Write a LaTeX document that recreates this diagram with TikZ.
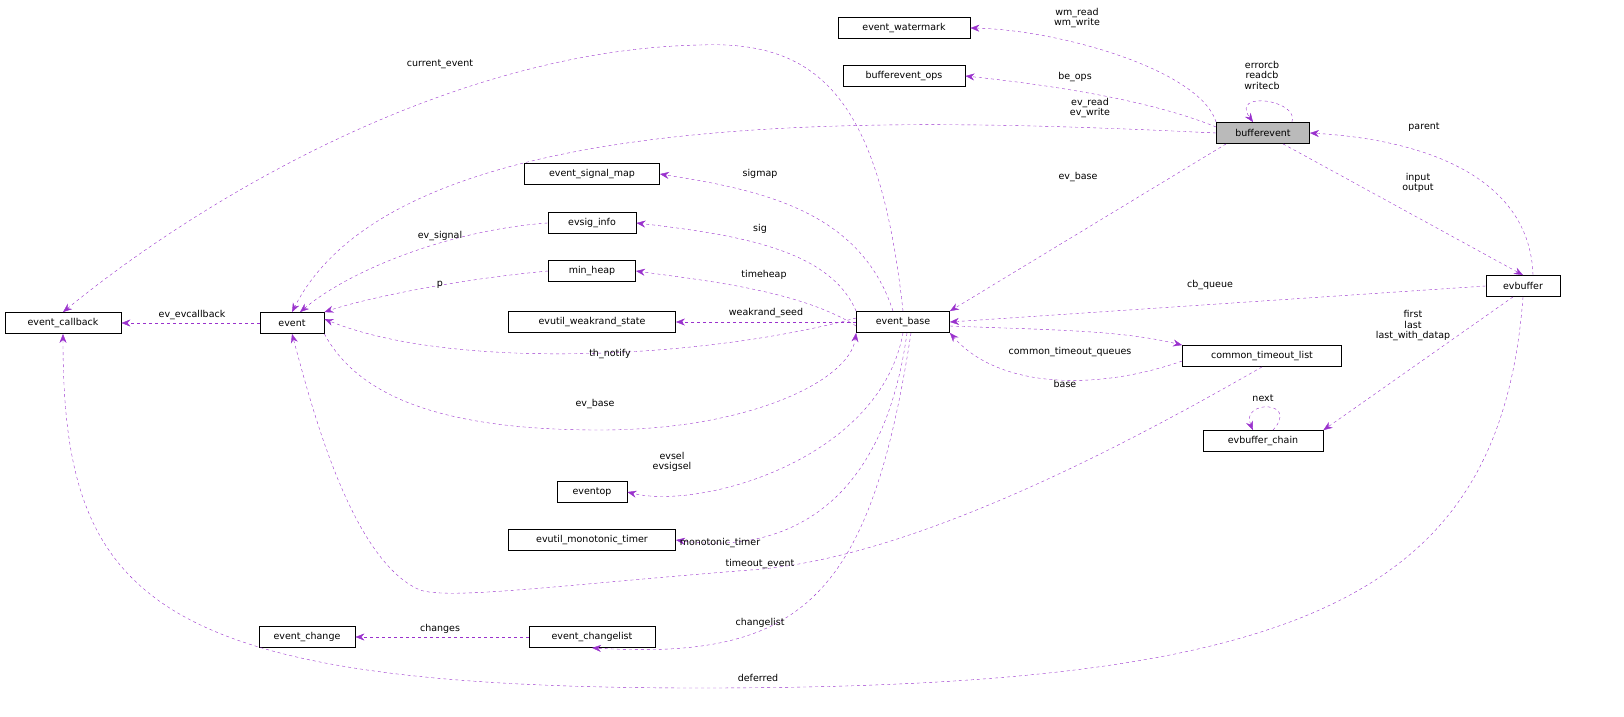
\documentclass[tikz,border=0pt]{standalone}
\usepackage{fontspec}
\setmainfont{DejaVu Sans}
\usetikzlibrary{arrows.meta}
\definecolor{ec}{HTML}{9A32CD}
\begin{document}
\begin{tikzpicture}[x=1pt,y=-1pt,
 box/.style={draw,thick,fill=white,font=\fontsize{9.5}{10}\selectfont,inner sep=3pt,minimum height=21pt},
 e/.style={ec,dashed,-{Stealth[length=9pt,width=7pt]}},
 lb/.style={font=\fontsize{9.5}{10.5}\selectfont,align=center,inner sep=0pt}]
\useasboundingbox (0,0) rectangle (1624,717);
\node[box,minimum width=132pt] (wm) at (904,28) {event\_watermark};
\node[box,minimum width=122pt] (bo) at (904,76) {bufferevent\_ops};
\node[box,minimum width=93pt,fill=black!27] (be) at (1263,133) {bufferevent};
\node[box,minimum width=135pt] (sm) at (592,174) {event\_signal\_map};
\node[box,minimum width=88pt] (si) at (592,223) {evsig\_info};
\node[box,minimum width=87pt] (mh) at (592,271) {min\_heap};
\node[box,minimum width=167pt] (wr) at (592,322) {evutil\_weakrand\_state};
\node[box,minimum width=93pt] (eb) at (903,322) {event\_base};
\node[box,minimum width=116pt] (cb) at (63,323) {event\_callback};
\node[box,minimum width=64pt] (ev) at (292,323) {event};
\node[box,minimum width=74pt] (buf) at (1523,286) {evbuffer};
\node[box,minimum width=159pt] (ct) at (1262,356) {common\_timeout\_list};
\node[box,minimum width=120pt] (ch) at (1263,441) {evbuffer\_chain};
\node[box,minimum width=70pt] (op) at (592,492) {eventop};
\node[box,minimum width=167pt] (mt) at (592,540) {evutil\_monotonic\_timer};
\node[box,minimum width=96pt] (ec) at (307,637) {event\_change};
\node[box,minimum width=126pt] (cl) at (592,637) {event\_changelist};

\draw[e] (be.north west) .. controls (1200,70) and (1060,30) .. (wm.east);
\node[lb] at (1077,18) {wm\_read\\wm\_write};
\draw[e] (be.west) ++(0,-6) .. controls (1150,100) and (1050,85) .. (bo.east);
\node[lb] at (1075,77) {be\_ops};
\draw[e] (be.north east) ++(-18,0) .. controls (1300,100) and (1230,90) .. ([xshift=-10pt]be.north);
\node[lb] at (1262,75) {errorcb\\readcb\\writecb};
\draw[e] (be.west) .. controls (900,118) and (400,100) .. (ev.north);
\node[lb] at (1090,108) {ev\_read\\ev\_write};
\draw[e] (be.south west) ++(10,0) -- (eb.north east);
\node[lb] at (1078,177) {ev\_base};
\draw[e] (be.south) ++(20,0) -- (buf.north);
\node[lb] at (1418,183) {input\\output};
\draw[e] (buf.north) ++(10,0) .. controls (1530,180) and (1430,140) .. (be.east);
\node[lb] at (1424,127) {parent};
\draw[e] (buf.west) -- (eb.east);
\node[lb] at (1210,285) {cb\_queue};
\draw[e] (buf.south) ++(-10,0) -- (ch.north east);
\node[lb] at (1413,326) {first\\last\\last\_with\_datap};
\draw[e] (buf.south) .. controls (1500,600) and (1300,688) .. (700,688) .. controls (150,688) and (63,600) .. (cb.south);
\node[lb] at (758,678) {deferred};
\draw[e] ([xshift=10pt]ch.north) .. controls (1300,400) and (1240,400) .. ([xshift=-10pt]ch.north);
\node[lb] at (1263,398) {next};
\draw[e] (eb.north) .. controls (880,100) and (820,40) .. (700,45) .. controls (450,50) and (200,200) .. (cb.north);
\node[lb] at (440,64) {current\_event};
\draw[e] (eb.north) ++(-10,0) .. controls (860,210) and (760,190) .. (sm.east);
\node[lb] at (760,174) {sigmap};
\draw[e] (eb.north west) .. controls (830,250) and (740,235) .. (si.east);
\node[lb] at (760,229) {sig};
\draw[e] ([yshift=-4pt]eb.west) .. controls (800,290) and (700,280) .. (mh.east);
\node[lb] at (764,275) {timeheap};
\draw[e] (eb.west) -- (wr.east);
\node[lb] at (766,313) {weakrand\_seed};
\draw[e] ([yshift=4pt]eb.west) .. controls (700,360) and (450,370) .. ([yshift=4pt]ev.east);
\node[lb] at (610,354) {th\_notify};
\draw[e] (ev.south east) .. controls (360,400) and (450,430) .. (600,430) .. controls (750,430) and (850,380) .. (eb.south west);
\node[lb] at (595,404) {ev\_base};
\draw[e] (eb.south) .. controls (880,460) and (700,510) .. (op.east);
\node[lb] at (672,462) {evsel\\evsigsel};
\draw[e] ([xshift=4pt]eb.south) .. controls (880,530) and (760,552) .. (mt.east);
\node[lb] at (720,543) {monotonic\_timer};
\draw[e] ([xshift=8pt]eb.south) .. controls (870,600) and (800,660) .. (cl.south);
\node[lb] at (760,623) {changelist};
\draw[e] (eb.east) ++(0,4) .. controls (1050,330) and (1120,330) .. (ct.north west);
\node[lb] at (1070,352) {common\_timeout\_queues};
\draw[e] (ct.west) ++(0,5) .. controls (1100,390) and (1000,390) .. (eb.south east);
\node[lb] at (1065,384) {base};
\draw[e] (ct.south) .. controls (1100,460) and (900,560) .. (750,570) .. controls (560,585) and (450,600) .. (420,590) .. controls (350,560) and (310,400) .. (ev.south);
\node[lb] at (760,564) {timeout\_event};
\draw[e] (si.west) .. controls (450,230) and (350,270) .. ([xshift=8pt]ev.north);
\node[lb] at (440,236) {ev\_signal};
\draw[e] (mh.west) .. controls (450,280) and (360,300) .. (ev.north east);
\node[lb] at (440,285) {p};
\draw[e] (ev.west) -- (cb.east);
\node[lb] at (192,315) {ev\_evcallback};
\draw[e] (cl.west) -- (ec.east);
\node[lb] at (440,629) {changes};
\end{tikzpicture}
\end{document}
